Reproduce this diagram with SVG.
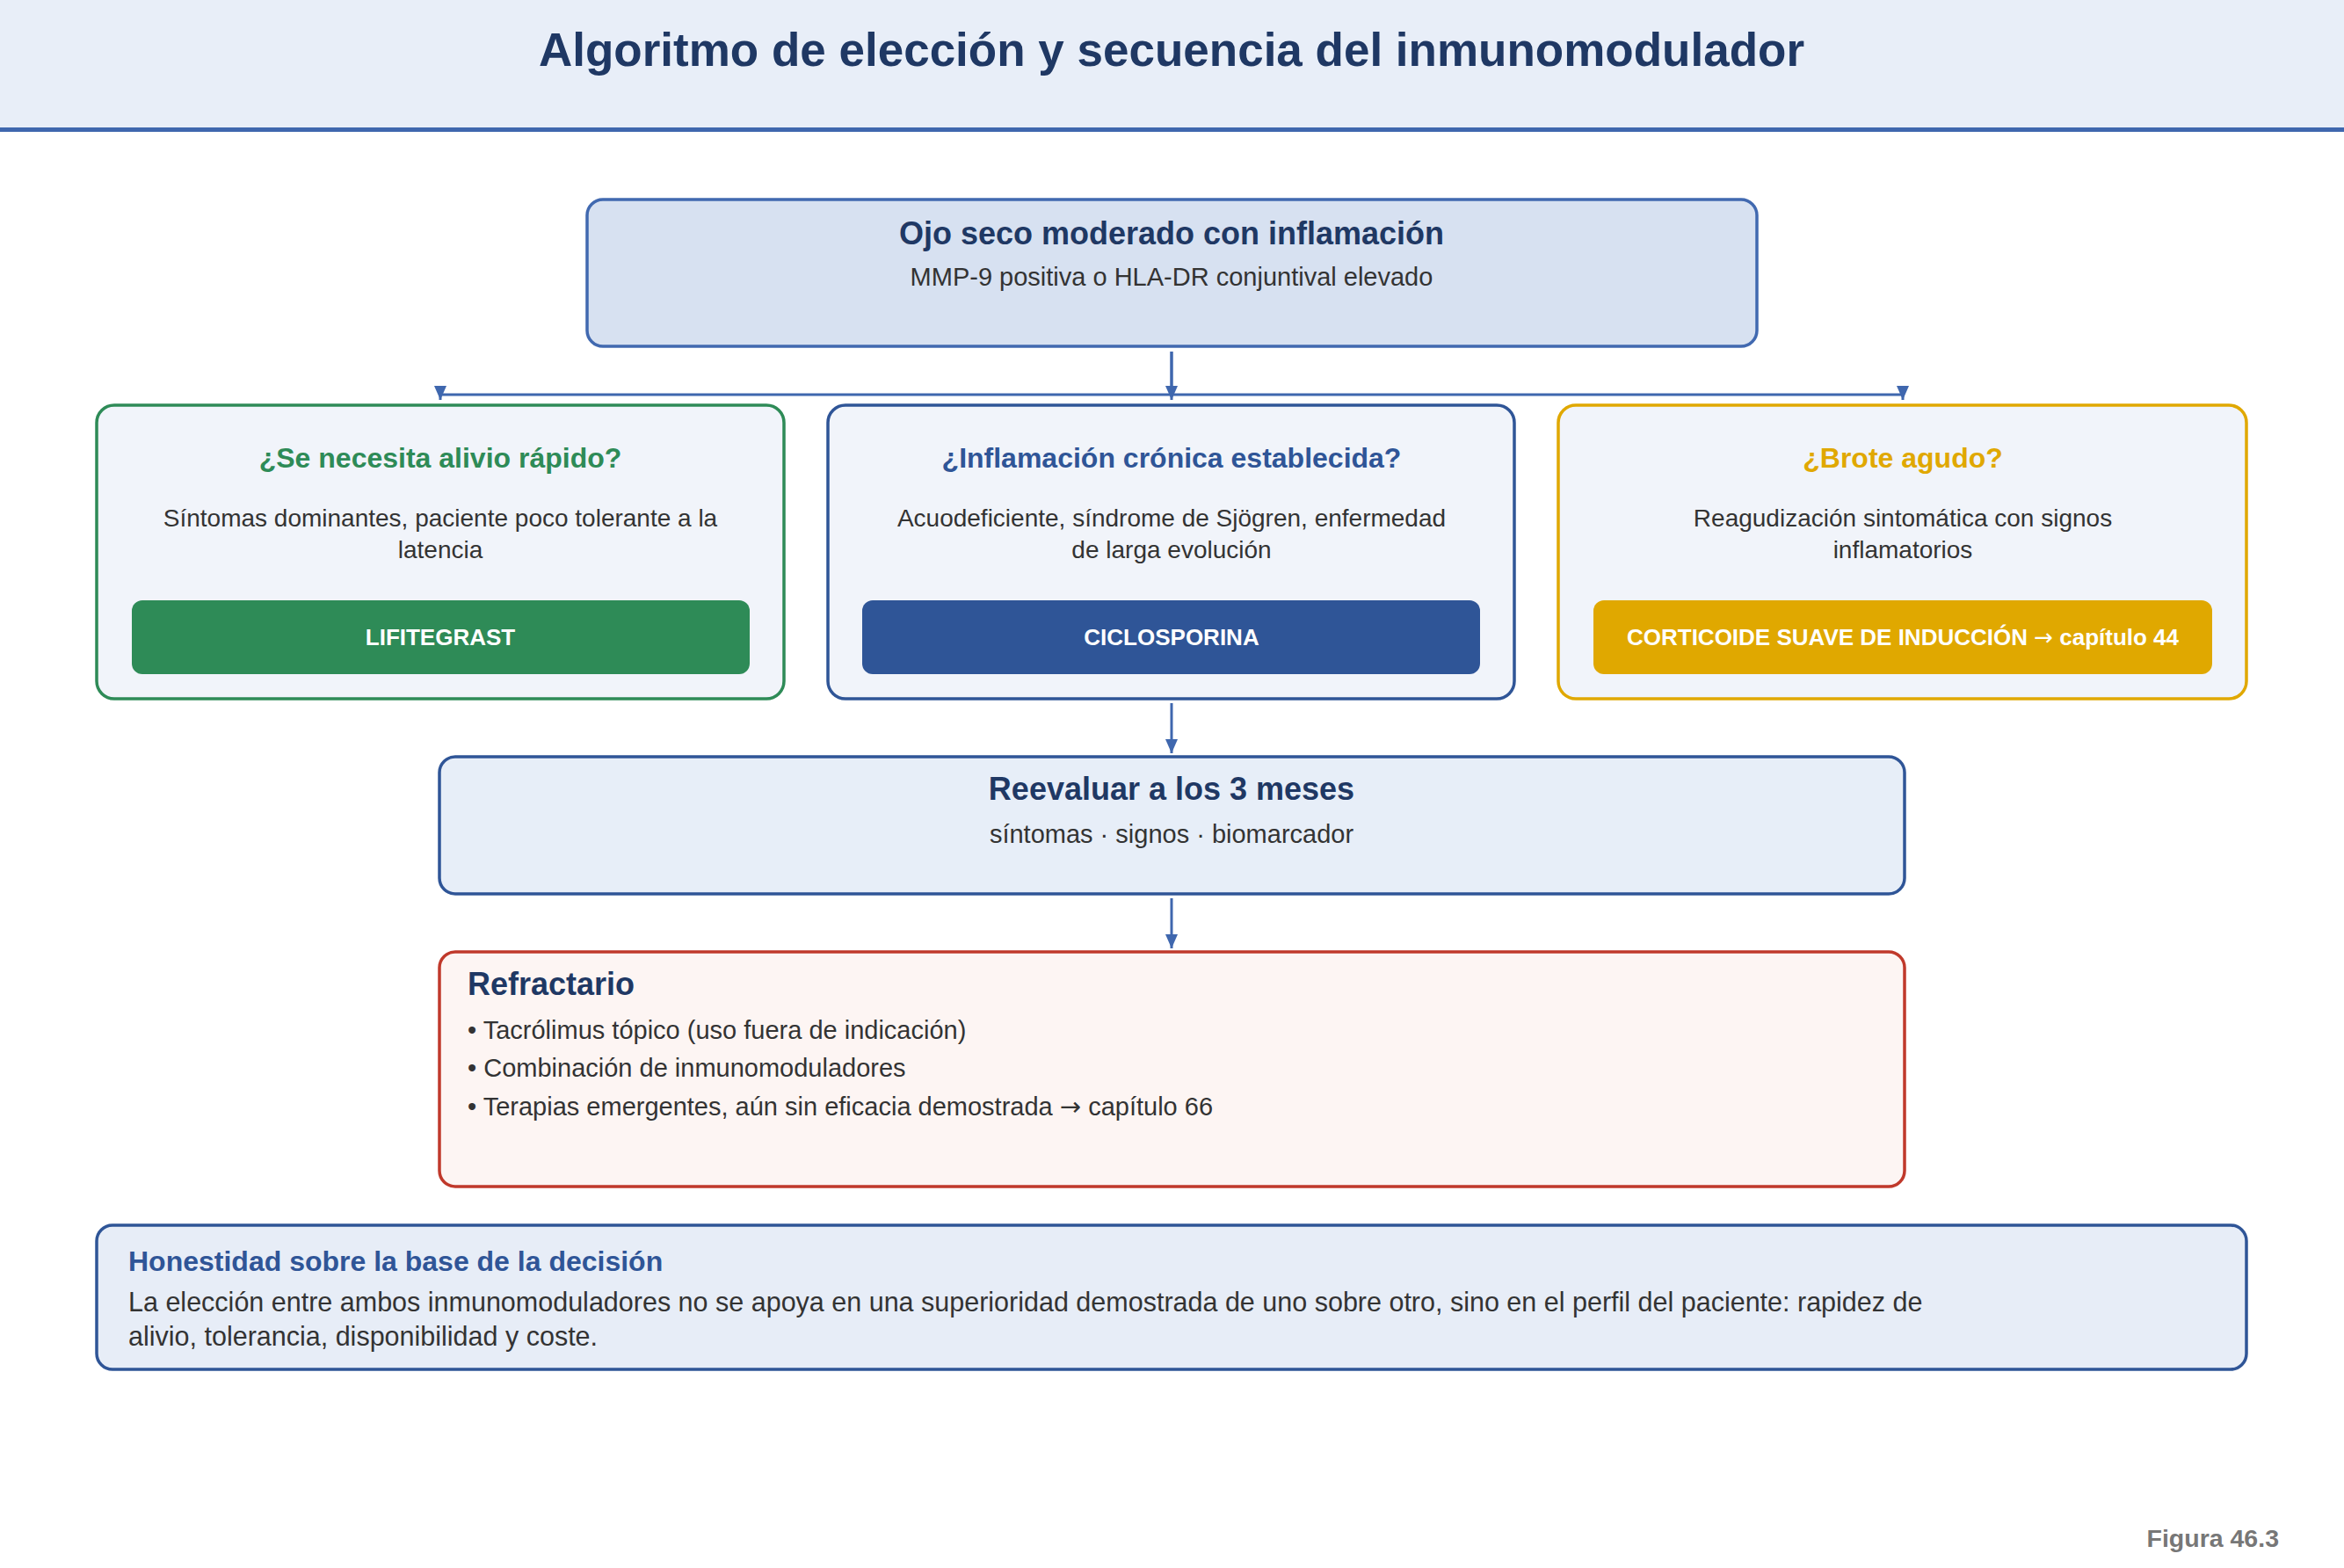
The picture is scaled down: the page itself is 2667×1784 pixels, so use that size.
<svg xmlns="http://www.w3.org/2000/svg" width="2667" height="1784" viewBox="0 0 2667 1784">
<style>
text{font-family:"Liberation Sans",Arial,Helvetica,sans-serif}
.ttl{font-size:36px;font-weight:bold;fill:#1f3864}
.sub{font-size:29px;fill:#333333}
.body{font-size:30.5px;fill:#333333}
.desc{font-size:28px;fill:#333333;text-anchor:middle}
.q{font-size:32px;font-weight:bold;text-anchor:middle}
.btn{font-size:26px;font-weight:bold;fill:#ffffff;text-anchor:middle}
.card{fill:#f1f4fa;stroke-width:3.5}
.conn{fill:none;stroke:#3f67ae;stroke-width:3}
.ar{font-family:"DejaVu Sans",sans-serif;font-weight:normal}
</style>
<defs>
<marker id="arr" viewBox="0 0 16 14" refX="16" refY="7" markerWidth="16" markerHeight="14" orient="auto" markerUnits="userSpaceOnUse"><path d="M0,0 L16,7 L0,14 z" fill="#3f67ae"/></marker>
</defs>
<rect width="2667" height="1784" fill="#ffffff"/>
<g id="header">
<rect x="0" y="0" width="2667" height="146" fill="#e8eef8"/>
<line x1="0" y1="147.5" x2="2667" y2="147.5" stroke="#3f67ae" stroke-width="5"/>
<text x="1333" y="75" text-anchor="middle" font-size="53" font-weight="bold" fill="#1f3864">Algoritmo de elección y secuencia del inmunomodulador</text>
</g>
<g id="connectors">
<path class="conn" d="M1333,400 V449 H501 V455" marker-end="url(#arr)"/>
<path class="conn" d="M1333,400 V455" marker-end="url(#arr)"/>
<path class="conn" d="M1333,449 H2165 V455" marker-end="url(#arr)"/>
<path class="conn" d="M1333,800 V857" marker-end="url(#arr)"/>
<path class="conn" d="M1333,1022 V1079" marker-end="url(#arr)"/>
</g>
<g id="start">
<rect x="668" y="227" width="1331" height="167" rx="18" fill="#d7e1f1" stroke="#4169b0" stroke-width="3.5"/>
<text class="ttl" x="1333" y="278" text-anchor="middle">Ojo seco moderado con inflamación</text>
<text class="sub" x="1333" y="325" text-anchor="middle">MMP-9 positiva o HLA-DR conjuntival elevado</text>
</g>
<g id="lifitegrast">
<rect class="card" x="110" y="461" width="782" height="334" rx="20" stroke="#2e8b57"/>
<text class="q" x="501" y="532" fill="#2e8b57">¿Se necesita alivio rápido?</text>
<text class="desc" x="501" y="599">Síntomas dominantes, paciente poco tolerante a la</text>
<text class="desc" x="501" y="635">latencia</text>
<rect x="150" y="683" width="703" height="84" rx="12" fill="#2e8b57"/>
<text class="btn" x="501" y="734">LIFITEGRAST</text>
</g>
<g id="ciclosporina">
<rect class="card" x="942" y="461" width="781" height="334" rx="20" stroke="#2f5597"/>
<text class="q" x="1333" y="532" fill="#2f5597">¿Inflamación crónica establecida?</text>
<text class="desc" x="1333" y="599">Acuodeficiente, síndrome de Sjögren, enfermedad</text>
<text class="desc" x="1333" y="635">de larga evolución</text>
<rect x="981" y="683" width="703" height="84" rx="12" fill="#2f5597"/>
<text class="btn" x="1333" y="734">CICLOSPORINA</text>
</g>
<g id="corticoide">
<rect class="card" x="1773" y="461" width="783" height="334" rx="20" stroke="#e0a800"/>
<text class="q" x="2165" y="532" fill="#e0a800">¿Brote agudo?</text>
<text class="desc" x="2165" y="599">Reagudización sintomática con signos</text>
<text class="desc" x="2165" y="635">inflamatorios</text>
<rect x="1813" y="683" width="704" height="84" rx="12" fill="#e0a800"/>
<text class="btn" x="2165" y="734">CORTICOIDE SUAVE DE INDUCCIÓN <tspan class="ar">→</tspan> capítulo 44</text>
</g>
<g id="reevaluar">
<rect x="500" y="861" width="1667" height="156" rx="18" fill="#e7eef8" stroke="#2f5597" stroke-width="3.5"/>
<text class="ttl" x="1333" y="910" text-anchor="middle">Reevaluar a los 3 meses</text>
<text class="sub" x="1333" y="959" text-anchor="middle">síntomas · signos · biomarcador</text>
</g>
<g id="refractario">
<rect x="500" y="1083" width="1667" height="267" rx="18" fill="#fdf5f3" stroke="#c0392b" stroke-width="3.5"/>
<text class="ttl" x="532" y="1132">Refractario</text>
<text class="sub" x="532" y="1182">• Tacrólimus tópico (uso fuera de indicación)</text>
<text class="sub" x="532" y="1225">• Combinación de inmunomoduladores</text>
<text class="sub" x="532" y="1269">• Terapias emergentes, aún sin eficacia demostrada <tspan class="ar">→</tspan> capítulo 66</text>
</g>
<g id="honestidad">
<rect x="110" y="1394" width="2446" height="164" rx="18" fill="#e7edf7" stroke="#2f5597" stroke-width="3.5"/>
<text x="146" y="1446" font-size="32" font-weight="bold" fill="#2f5597">Honestidad sobre la base de la decisión</text>
<text class="body" x="146" y="1492">La elección entre ambos inmunomoduladores no se apoya en una superioridad demostrada de uno sobre otro, sino en el perfil del paciente: rapidez de</text>
<text class="body" x="146" y="1531">alivio, tolerancia, disponibilidad y coste.</text>
</g>
<text x="2593" y="1760" text-anchor="end" font-size="28.5" font-weight="bold" fill="#777777">Figura 46.3</text>
</svg>
